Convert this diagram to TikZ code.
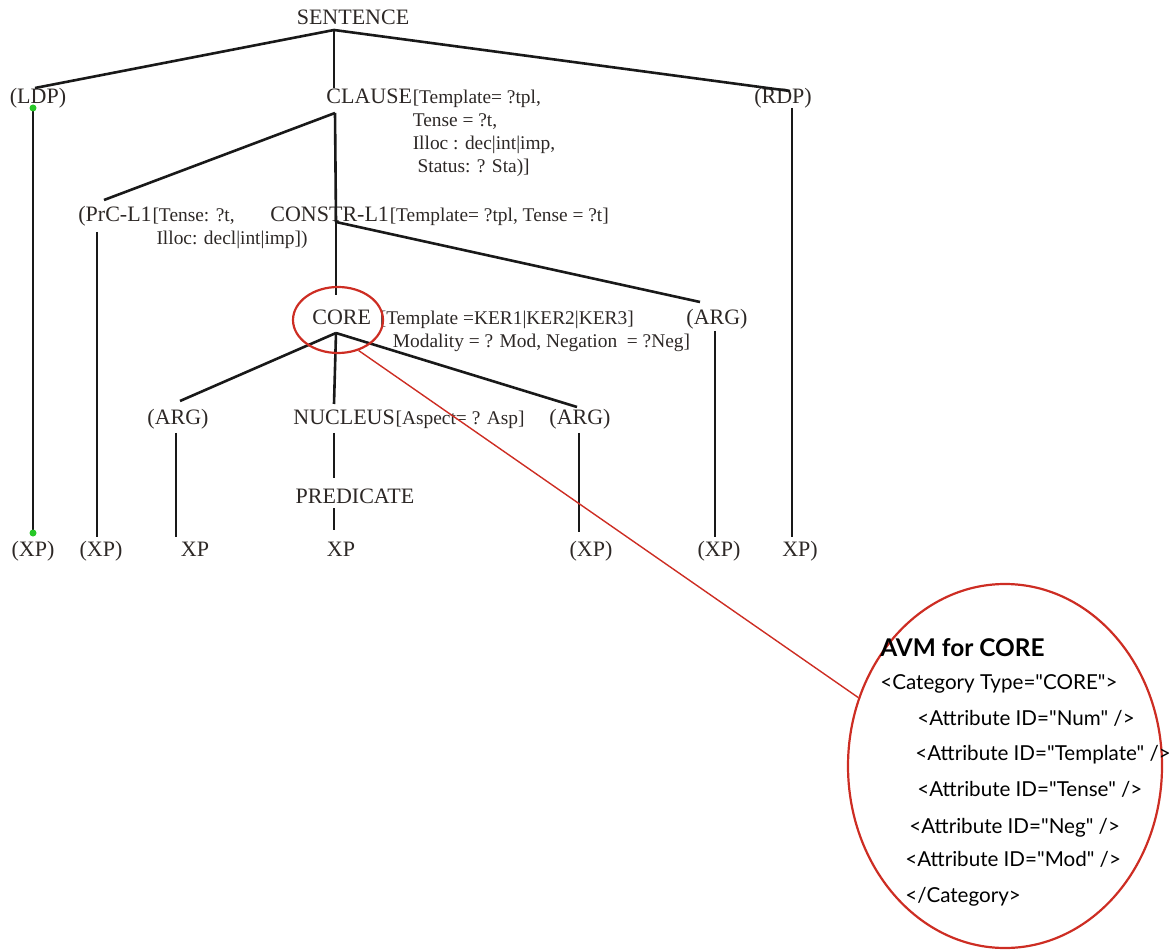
\documentclass[tikz,border=0pt]{standalone}
\usepackage{fontspec}
\setmainfont{Liberation Serif}
\newfontfamily\avmfont{Lato}
\usepackage{tikz}
\usetikzlibrary{calc}
\usetikzlibrary{shapes}
\definecolor{ink}{RGB}{45,40,38}
\definecolor{markred}{RGB}{205,45,35}
\definecolor{dotgreen}{RGB}{40,200,40}
\newcommand{\catfont}{\fontsize{11}{13}\selectfont}
\newcommand{\attrfont}{\fontsize{9.7}{11.5}\selectfont}
\newcommand{\avmsize}{\avmfont\fontsize{10.3}{14}\selectfont}
\newcommand{\lines}[1]{\begin{tabular}[t]{@{}l@{}}#1\end{tabular}}

\begin{document}
\begin{tikzpicture}[x=0.5pt,y=-0.5pt,
  cat/.style={font=\catfont,text=ink,inner sep=0pt,anchor=base},
  attr/.style={font=\attrfont,text=ink,inner sep=0pt,anchor=base west},
  branch/.style={line width=1.3pt,draw=black!90},
  avm/.style={font=\avmsize,inner sep=0pt,anchor=base west},
  redoval/.style={draw=markred,line width=1.1pt,ellipse,inner sep=0pt}]
\useasboundingbox (0,0) rectangle (1171,951);

% category labels
\node[cat] (sentence) at (353,25) {SENTENCE};
\node[cat] (ldp) at (38,104) {(LDP)};
\node[cat,anchor=base west] (clause) at (326,104) {CLAUSE};
\node[attr] (clauseattr) at (clause.base east) {\lines{[Template= ?tpl,\\Tense = ?t,\\Illoc : dec|int|imp,\\\ Status: ? Sta)]}};
\node[cat] (rdp) at (783,104) {(RDP)};
\node[cat,anchor=base west] (prc) at (78,222) {(PrC-L1};
\node[attr] (prcattr) at (prc.base east) {\lines{[Tense: ?t,\\\hspace{2pt}Illoc: decl|int|imp])}};
\node[cat,anchor=base west] (constr) at (270,222) {CONSTR-L1};
\node[attr] (constrattr) at (constr.base east) {[Template= ?tpl, Tense = ?t]};
\node[cat,anchor=base west] (core) at (312,325) {CORE};
\node[attr,xshift=4pt] (coreattr) at (core.base east) {\lines{[Template =KER1|KER2|KER3]\\\hspace{6.5pt}Modality = ? Mod, Negation\ \ = ?Neg]}};
\node[cat] (argc) at (717,325) {(ARG)};
\node[cat] (arga) at (178,425) {(ARG)};
\node[cat,anchor=base west] (nucleus) at (293,425) {NUCLEUS};
\node[attr] (nucleusattr) at (nucleus.base east) {[Aspect= ? Asp]};
\node[cat] (argb) at (580,425) {(ARG)};
\node[cat] (pred) at (355,503) {PREDICATE};
\foreach \x/\t [count=\i] in {33/(XP),101/(XP),195/XP,341/XP,591/(XP),719/(XP),800/XP)}
  \node[cat] (xp\i) at (\x,556) {\t};

% joints of the tree
\coordinate (sentence-dn) at (334,30);
\coordinate (ldp-up) at (35,88);
\coordinate (ldp-dn) at (33,108);
\coordinate (clause-up) at (334,88);
\coordinate (clause-dn) at (335,113);
\coordinate (rdp-up) at (790,91);
\coordinate (rdp-dn) at (792,108);
\coordinate (prc-up) at (104,200);
\coordinate (prc-dn) at (97,232);
\coordinate (constr-j) at (336,222);
\coordinate (argc-up) at (700,302);
\coordinate (argc-dn) at (715,331);
\coordinate (core-up) at (336,295);
\coordinate (core-dn) at (336,333);
\coordinate (arga-up) at (180,401);
\coordinate (arga-dn) at (176,433);
\coordinate (nucleus-up) at (334,404);
\coordinate (nucleus-dn) at (334,433);
\coordinate (argb-up) at (577,407);
\coordinate (argb-dn) at (579,433);
\coordinate (pred-up) at (334,478);
\coordinate (pred-dn) at (334,508);
\foreach \x/\y [count=\i] in {33/533,97/537,176/537,334/530,579/532,715/537,792/537}
  \coordinate (xp\i-up) at (\x,\y);

% branches
\draw[branch] (sentence-dn) -- (ldp-up);
\draw[branch] (sentence-dn) -- (clause-up);
\draw[branch] (sentence-dn) -- (rdp-up);
\draw[branch] (clause-dn) -- (prc-up);
\draw[branch] (clause-dn) -- (constr-j);
\draw[branch] (constr-j) -- (argc-up);
\draw[branch] (constr-j) -- (core-up);
\draw[branch] (core-dn) -- (arga-up);
\draw[branch] (core-dn) -- (nucleus-up);
\draw[branch] (core-dn) -- (argb-up);
\draw[branch] (nucleus-dn) -- (pred-up);
\draw[branch] (ldp-dn) -- (xp1-up);
\draw[branch] (prc-dn) -- (xp2-up);
\draw[branch] (arga-dn) -- (xp3-up);
\draw[branch] (pred-dn) -- (xp4-up);
\draw[branch] (argb-dn) -- (xp5-up);
\draw[branch] (argc-dn) -- (xp6-up);
\draw[branch] (rdp-dn) -- (xp7-up);
\fill[dotgreen] (ldp-dn) circle (3.5);
\fill[dotgreen] (xp1-up) circle (3.5);

% the AVM of CORE
\node[redoval,minimum width=45pt,minimum height=33pt] (coremark) at (338,320) {};
\node[redoval,minimum width=157pt,minimum height=182pt] (avmoval) at (1005,766) {};
\draw[markred,line width=0.7pt] (coremark.-56) -- (avmoval.155);
\node[avm,font=\avmfont\fontsize{12.2}{14}\selectfont\bfseries] (avmtitle) at (880,656) {AVM for CORE};
\node[avm] (avm1) at (880,689) {<Category Type="CORE">};
\node[avm] (avm2) at (917,725) {<Attribute ID="Num" />};
\node[avm] (avm3) at (915,760) {<Attribute ID="Template" />};
\node[avm] (avm4) at (917,796) {<Attribute ID="Tense" />};
\node[avm] (avm5) at (909,833) {<Attribute ID="Neg" />};
\node[avm] (avm6) at (905,866) {<Attribute ID="Mod" />};
\node[avm] (avm7) at (905,902) {</Category>};
\end{tikzpicture}
\end{document}
